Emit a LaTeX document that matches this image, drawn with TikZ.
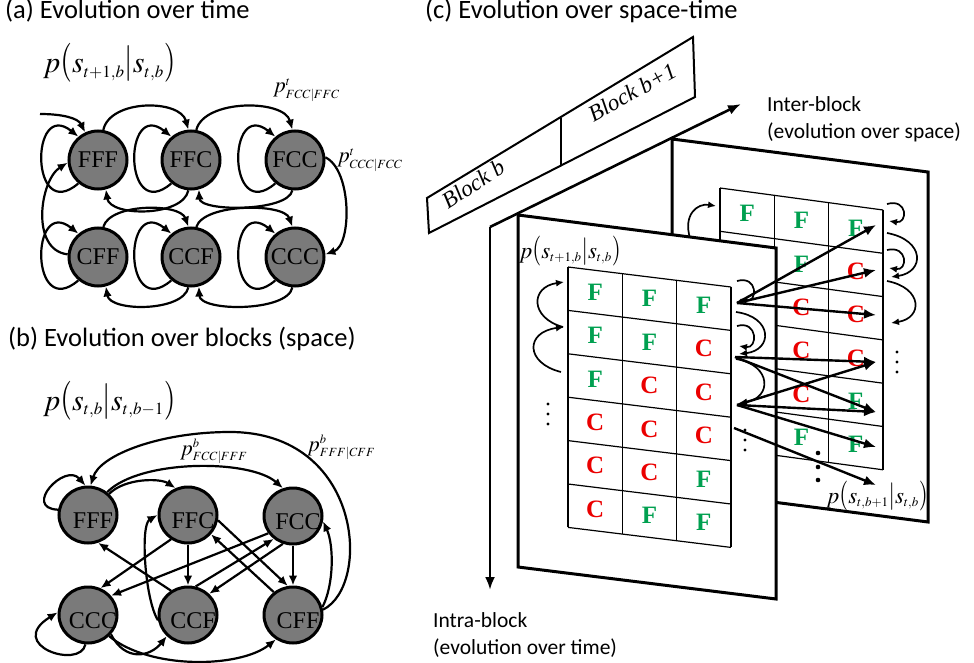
\documentclass[tikz,border=0pt]{standalone}
\usepackage{mathptmx}
\usepackage{graphicx}
\usepackage[no-math]{fontspec}
\setmainfont{Liberation Serif}
\newfontfamily\titlefont{Carlito}
\usetikzlibrary{arrows.meta,shapes.geometric}
\definecolor{statefill}{RGB}{122,122,122}
\definecolor{cellF}{RGB}{0,160,80}
\definecolor{cellC}{RGB}{235,0,0}
% smaller indices for the formula sizes used below
\DeclareMathSizes{30}{30}{17}{13}
\DeclareMathSizes{23}{23}{13}{10}
\DeclareMathSizes{22}{22}{12.5}{10}
% conditional probability p( a | b ) with stretched delimiters
\newcommand\tallopen{\mathopen{\scalebox{1}[1.3]{$($}}}
\newcommand\tallclose{\mathclose{\scalebox{1}[1.3]{$)$}}}
\newcommand\tallbar{\mathord{\scalebox{1}[1.2]{$|$}}}
\newcommand\condp[2]{p\tallopen#1\tallbar#2\tallclose}

\begin{document}
\begin{tikzpicture}[x=1pt,y=-1pt,
  stateA/.style={circle,draw,line width=3pt,fill=statefill,minimum size=58pt,inner sep=0pt,font=\fontsize{24}{24}\selectfont},
  stateB/.style={ellipse,draw,line width=3pt,fill=statefill,minimum width=58pt,minimum height=56pt,inner sep=0pt},
  stateBtext/.style={inner sep=0pt,font=\fontsize{24}{24}\selectfont},
  tarrow/.style={line width=2.2pt,-{Latex[length=10pt,width=8.5pt]}},
  smallarc/.style={line width=1.7pt,-{Latex[length=8pt,width=7pt]}},
  fanarrow/.style={line width=2.4pt,-{Latex[length=12pt,width=10pt]}},
  axisarrow/.style={line width=2.6pt,-{Latex[length=13pt,width=10pt]}},
  planebox/.style={draw,line width=3pt,fill=white},
  gridline/.style={line width=1.2pt},
  letter/.style={inner sep=0pt,font=\bfseries\fontsize{25}{25}\selectfont},
  titletext/.style={anchor=base west,inner sep=0pt,font=\titlefont\fontsize{26.5}{30}\selectfont},
  axistext/.style={anchor=base west,inner sep=0pt,font=\titlefont\fontsize{21.5}{26}\selectfont},
  bigformula/.style={anchor=base west,inner sep=0pt,font=\fontsize{30}{30}\selectfont},
  smallformula/.style={anchor=base west,inner sep=0pt,font=\fontsize{23}{23}\selectfont},
  probtext/.style={anchor=base west,inner sep=0pt,font=\fontsize{22}{22}\selectfont},
  blocktext/.style={inner sep=0pt,font=\itshape\fontsize{23}{24}\selectfont}]

\useasboundingbox (0,0) rectangle (974,663);

% ================= (a) evolution over time =================
\node[titletext] (ta) at (5,18.5) {(a) Evolution over time};
\node[bigformula] (fa) at (43,73) {$\condp{s_{t+1,b}}{s_{t,b}}$};
\node[probtext] (pa1) at (273,93) {$p^{t}_{FCC|FFC}$};
\node[probtext] (pa2) at (337,163) {$p^{t}_{CCC|FCC}$};

\node[stateA] (aFFF) at (98,160) {FFF};
\node[stateA] (aFFC) at (191,160) {FFC};
\node[stateA] (aFCC) at (295,160) {FCC};
\node[stateA] (aCFF) at (98,257) {CFF};
\node[stateA] (aCCF) at (191,257) {CCF};
\node[stateA] (aCCC) at (295,257) {CCC};

\coordinate (ain) at (40,114);
\draw[tarrow] (ain) .. controls (62,114) and (78,118) .. (aFFF.115);
% upper arcs
\draw[tarrow] (aFFF.80) .. controls (110,99) and (180,99) .. (aFFC.95);
\draw[tarrow] (aFFC.80) .. controls (204,99) and (284,99) .. (aFCC.95);
\draw[tarrow] (aCFF.80) .. controls (110,203) and (180,203) .. (aCCF.95);
\draw[tarrow] (aCCF.80) .. controls (204,203) and (284,203) .. (aCCC.95);
% lower arcs
\draw[tarrow] (aFCC.265) .. controls (288,212) and (200,212) .. (aFFC.285);
\draw[tarrow] (aFFC.265) .. controls (183,217) and (110,217) .. (aFFF.285);
\draw[tarrow] (aCCC.265) .. controls (288,312) and (200,312) .. (aCCF.285);
\draw[tarrow] (aCCF.265) .. controls (183,312) and (110,312) .. (aCFF.285);
% self loops
\foreach \n/\cx/\cy in {aFFF/98/160, aFFC/191/160, aFCC/295/160, aCFF/98/257, aCCF/191/257, aCCC/295/257}
  \draw[tarrow] (\n.230) .. controls (\cx-68,\cy+65) and (\cx-68,\cy-62) .. (\n.130);
% row changes
\draw[tarrow] (aCFF.175) .. controls (30,250) and (40,180) .. (aFFF.185);
\draw[tarrow] (aFCC.5) .. controls (352,170) and (352,245) .. (aCCC.5);

% ================= (b) evolution over blocks =================
\node[titletext] (tb) at (8,346.5) {(b) Evolution over blocks (space)};
\node[bigformula] (fb) at (43,410) {$\condp{s_{t,b}}{s_{t,b-1}}$};
\node[probtext] (pb1) at (180,455) {$p^{b}_{FCC|FFF}$};
\node[probtext] (pb2) at (307,451) {$p^{b}_{FFF|CFF}$};

\node[stateB] (bFFF) at (88,515) {};
\node[stateB] (bFFC) at (188,515) {};
\node[stateB] (bFCC) at (293,516) {};
\node[stateB] (bCCC) at (88,615) {};
\node[stateB] (bCCF) at (188,615) {};
\node[stateB] (bCFF) at (293,615) {};

\draw[tarrow] (bFFF.170) .. controls (22,508) and (65,462) .. (bFFF.95);
\draw[tarrow] (bCFF.10) .. controls (372,585) and (362,432) .. (230,432)
              .. controls (160,432) and (100,455) .. (bFFF.85);
\draw[tarrow] (bFFF.45) .. controls (125,478) and (160,478) .. (bFFC.115);
\draw[tarrow] (bFFF.50) .. controls (140,459) and (250,459) .. (bFCC.110);
\draw[tarrow] (bFFC.270) -- (bCCF.90);
\draw[tarrow] (bFCC.270) -- (bCFF.90);
\draw[tarrow] (bFFC.350) -- (bCFF.100);
\draw[tarrow] (bCFF.130) -- (bFFC.320);
\draw[tarrow] (bCCF.125) -- (bFFF.290);
\draw[tarrow] (bFFC.235) -- (bCCC.65);
\draw[tarrow] (bFCC.215) -- (bCCC.40);
\draw[tarrow] (bCCF.75) -- (bFCC.230);
\draw[tarrow] (bFCC.250) -- (bCCF.45);
\draw[tarrow] (bCCF.190) .. controls (145,600) and (140,525) .. (bFFC.180);
\draw[tarrow] (bCFF.15) .. controls (334,585) and (334,545) .. (bFCC.350);
\draw[tarrow] (bCCC.265) .. controls (80,670) and (5,645) .. (bCCC.175);
\draw[tarrow] (bCCC.320) .. controls (125,662) and (150,657) .. (bCCF.225);
\draw[tarrow] (bCCC.315) .. controls (150,670) and (240,668) .. (bCFF.235);

\node[stateBtext] (bFFFt) at (93,521) {FFF};
\node[stateBtext] (bFFCt) at (193,521) {FFC};
\node[stateBtext] (bFCCt) at (298,522) {FCC};
\node[stateBtext] (bCCCt) at (93,621) {CCC};
\node[stateBtext] (bCCFt) at (193,621) {CCF};
\node[stateBtext] (bCFFt) at (298,621) {CFF};

% ================= (c) evolution over space-time =================
\node[titletext] (tc) at (425,18.5) {(c) Evolution over space-time};

% block banner
\draw[line width=2pt] (427,198) -- (693,37) -- (695,97) -- (429,233) -- cycle;
\draw[line width=2pt] (561,118) -- (561,166);
\node[blocktext, rotate=33] (blk1) at (473,184) {Block b};
\node[blocktext, rotate=29] (blk2) at (632,92) {Block b+1};

% axes
\coordinate (origin) at (490,227);
\coordinate (interend) at (741,104);
\coordinate (intraend) at (490,590);
\draw[axisarrow] (origin) -- (interend);
\draw[axisarrow] (origin) -- (intraend);
\node[axistext] (inter1) at (767,112) {Inter-block};
\node[axistext] (inter2) at (767,139) {(evolution over space)};
\node[axistext] (intra1) at (433,627) {Intra-block};
\node[axistext] (intra2) at (433,654) {(evolution over time)};

% block b+1 plane
\draw[planebox] (672,139) -- (928,172) -- (928,522) -- (672,489) -- cycle;
\begin{scope}[shift={(720,188)}, x={(54.33pt,-7.33pt)}, y={(0pt,-43.3pt)}]
  \foreach \i in {0,...,6} \draw[gridline] (0,\i) -- (3,\i);
  \foreach \j in {0,...,3} \draw[gridline] (\j,0) -- (\j,6);
  \foreach \r/\c/\l in {1/1/F,1/2/F,1/3/F,2/2/F,2/3/C,3/2/C,3/3/C,4/2/C,4/3/C,5/2/C,5/3/F,6/2/F,6/3/F}
    \node[letter,text=cell\l] (bg-\r-\c) at (\c-0.5,\r-0.5) {\l};
\end{scope}
\draw[smallarc] (690,238) .. controls (683,215) and (697,203) .. (716,206);
\draw[smallarc] (887,204) .. controls (908,198) and (908,224) .. (889,221);
\draw[smallarc] (887,250) .. controls (908,245) and (908,271) .. (889,268);
\draw[smallarc] (887,233) .. controls (925,240) and (925,272) .. (891,277);
\draw[smallarc] (887,281) .. controls (923,288) and (923,318) .. (891,323);
\foreach \yy in {352,362,372} \fill (897,\yy) circle (1.7pt);

% block b plane
\draw[planebox] (518,215) -- (776,248) -- (776,599) -- (518,567) -- cycle;
\begin{scope}[shift={(568,267)}, x={(54.33pt,-6.67pt)}, y={(0pt,-43.4pt)}]
  \foreach \i in {0,...,6} \draw[gridline] (0,\i) -- (3,\i);
  \foreach \j in {0,...,3} \draw[gridline] (\j,0) -- (\j,6);
  \foreach \r/\c/\l in {1/1/F,1/2/F,1/3/F,2/1/F,2/2/F,2/3/C,3/1/F,3/2/C,3/3/C,4/1/C,4/2/C,4/3/C,5/1/C,5/2/C,5/3/F,6/1/C,6/2/F,6/3/F}
    \node[letter,text=cell\l] (fg-\r-\c) at (\c-0.5,\r-0.5) {\l};
\end{scope}
\draw[smallarc] (563,327) .. controls (530,318) and (530,287) .. (564,282);
\draw[smallarc] (561,372) .. controls (525,363) and (525,332) .. (564,327);
\draw[smallarc] (737,281) .. controls (758,275) and (758,303) .. (739,299);
\draw[smallarc] (737,326) .. controls (758,320) and (758,349) .. (739,346);
\draw[smallarc] (736,312) .. controls (773,317) and (773,350) .. (739,354);
\draw[smallarc] (736,359) .. controls (772,365) and (772,398) .. (739,403);
\foreach \yy in {404,414,424} \fill (548,\yy) circle (1.7pt);
\foreach \yy in {430,440,450} \fill (745,\yy) circle (1.7pt);
\foreach \yy in {453,467,480} \fill (818,\yy) circle (2.3pt);

\node[smallformula] (pc1) at (519,258) {$\condp{s_{t+1,b}}{s_{t,b}}$};
\node[smallformula] (pc2) at (826,503) {$\condp{s_{t,b+1}}{s_{t,b}}$};

% transitions from block b to block b+1
\coordinate (o1) at (737,303);
\coordinate (o2) at (735,357);
\coordinate (o3) at (737,405);
\coordinate (o4) at (734,428);
\coordinate (t1) at (876,225);
\coordinate (t2) at (876,270);
\coordinate (t3) at (876,315);
\coordinate (t4) at (876,362);
\coordinate (t5) at (876,412);
\coordinate (t6) at (876,447);
\coordinate (t7) at (876,485);
\draw[fanarrow] (o1) -- (t1);
\draw[fanarrow] (o1) -- (t2);
\draw[fanarrow] (o1) -- (t3);
\draw[fanarrow] (o2) -- (t4);
\draw[fanarrow] (o2) -- (t5);
\draw[fanarrow] (o3) -- (t4);
\draw[fanarrow] (o3) -- (t5);
\draw[fanarrow] (o3) -- (t6);
\draw[fanarrow] (o4) -- (t7);
\end{tikzpicture}
\end{document}
